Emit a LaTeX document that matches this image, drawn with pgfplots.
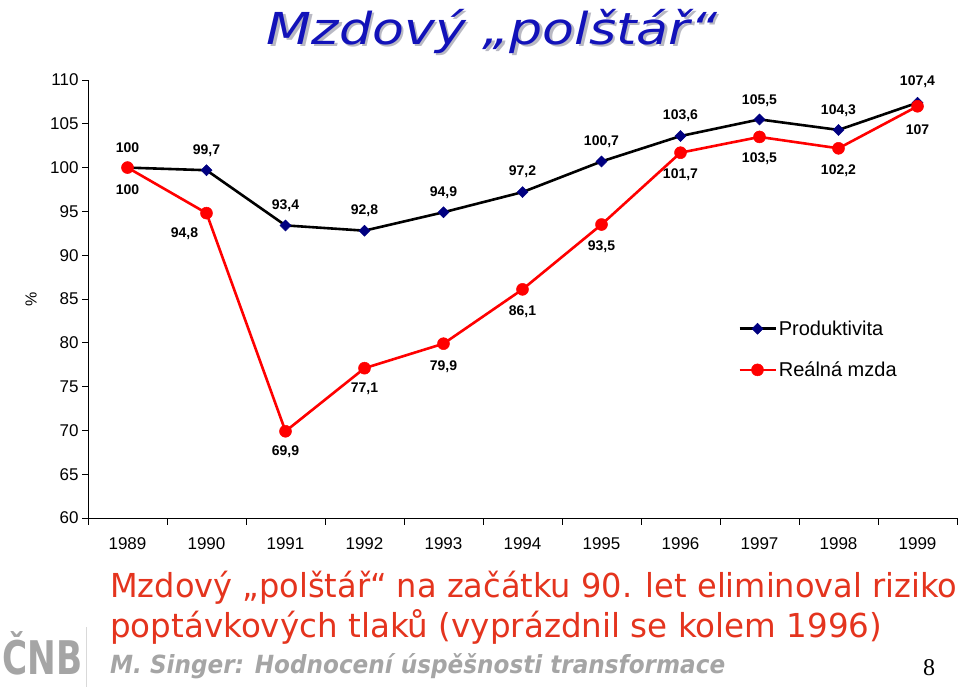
\documentclass[border=0pt]{standalone}
\usepackage{pgfplots}
\pgfplotsset{compat=1.18}
\usepackage{graphicx}
\usepackage{fontspec}
\setmainfont{Liberation Sans}
\newfontfamily\dejavu{DejaVu Sans}
\newfontfamily\timesf{Liberation Serif}
\definecolor{navy}{RGB}{0,0,128}
\definecolor{titleblue}{RGB}{18,18,185}
\definecolor{txtred}{RGB}{228,52,30}
\definecolor{shadowgray}{RGB}{185,185,195}
\definecolor{footgray}{RGB}{165,165,165}

\pgfplotstableread{
x y dx dy
0 100 0 20
1 99.7 0 20
2 93.4 0 20
3 92.8 0 20
4 94.9 0 20
5 97.2 0 20
6 100.7 0 20
7 103.6 0 20
8 105.5 0 19
9 104.3 0 19
10 107.4 0 21
}\prod

\pgfplotstableread{
x y dx dy
0 100 0 -22
1 94.8 -22 -21
2 69.9 0 -20
3 77.1 0 -21
4 79.9 0 -23
5 86.1 0 -22
6 93.5 0 -22
7 101.7 0 -22
8 103.5 0 -22
9 102.2 0 -22
10 107 0 -23
}\mzda

\begin{document}
\begin{tikzpicture}
\useasboundingbox (0pt,0pt) rectangle (959pt,687pt);
\begin{axis}[
  at={(88pt,169pt)}, anchor=south west,
  scale only axis, width=869pt, height=438pt,
  xmin=-0.5, xmax=10.5, ymin=60, ymax=110,
  axis x line*=bottom, axis y line*=left,
  axis line style={-, line width=0.9pt, black},
  ytick={60,65,...,110},
  xtick={0,...,10},
  xticklabels={1989,1990,1991,1992,1993,1994,1995,1996,1997,1998,1999},
  minor xtick={-0.5,0.5,...,10.5},
  tick align=outside,
  major tick length=6pt, minor tick length=7pt,
  major x tick style={draw=none},
  tick style={line width=0.9pt, black},
  /pgf/number format/.cd, use comma, 1000 sep={}, assume math mode=true,
  /pgfplots/.cd,
  tick label style={font=\fontsize{17}{17}\selectfont},
  x tick label style={yshift=-10pt},
  clip=false,
  legend style={at={(rel axis cs:0.748,0.385)}, anchor=west, draw=none, fill=none,
    font=\fontsize{20}{20}\selectfont, row sep=21pt, inner xsep=0pt},
  legend cell align=left,
  legend image code/.code={\draw[mark repeat=2,mark phase=2] plot coordinates {(0pt,0pt) (18pt,0pt) (36pt,0pt)};},
  visualization depends on={\thisrow{dx} \as \dx},
  visualization depends on={\thisrow{dy} \as \dy},
  nodes near coords,
  nodes near coords style={anchor=center, xshift=\dx pt, yshift=\dy pt,
    font=\fontsize{14}{14}\selectfont\bfseries, text=black},
]
\addplot[black, line width=2.6pt, mark=square*, mark size=3.9pt,
  mark options={rotate=45, fill=navy, draw=navy, line width=0.5pt}]
  table[x=x, y=y] {\prod};
\addlegendentry{Produktivita}
\addplot[red, line width=2.6pt, mark=*, mark size=6pt,
  mark options={fill=red, draw=red, line width=0.5pt}]
  table[x=x, y=y] {\mzda};
\addlegendentry{Reálná mzda}
\end{axis}
\node[rotate=90, font=\fontsize{16}{16}\selectfont] at (31pt,388pt) {\%};
% title
\node[text=shadowgray] at (494.5pt,653.5pt) {\resizebox{450pt}{\height}{\dejavu\itshape\fontsize{44}{44}\selectfont Mzdový „polštář“}};
\node[text=titleblue] at (492pt,656pt) {\resizebox{450pt}{\height}{\dejavu\itshape\fontsize{44}{44}\selectfont Mzdový „polštář“}};
% bottom text
\node[anchor=base west, text=txtred, inner sep=0pt] at (110pt,89pt) {\resizebox{847pt}{\height}{\dejavu\fontsize{33}{33}\selectfont Mzdový „polštář“ na začátku 90. let eliminoval riziko}};
\node[anchor=base west, text=txtred, inner sep=0pt] at (110pt,49pt) {\resizebox{772pt}{\height}{\dejavu\fontsize{33}{33}\selectfont poptávkových tlaků (vyprázdnil se kolem 1996)}};
\node[anchor=base west, text=footgray, inner sep=0pt] at (110pt,13pt) {\resizebox{615pt}{\height}{\dejavu\bfseries\itshape\fontsize{25}{25}\selectfont M. Singer: Hodnocení úspěšnosti transformace}};
\node[anchor=base, inner sep=0pt] at (929pt,11pt) {\timesf\fontsize{24}{24}\selectfont 8};
% logo
\node[anchor=base west, text=footgray, inner sep=0pt] at (2pt,12pt) {\resizebox{80pt}{43pt}{\dejavu\bfseries ČNB}};
\draw[gray!30, line width=1pt] (86pt,0pt) -- (86pt,60pt);
\end{tikzpicture}
\end{document}
